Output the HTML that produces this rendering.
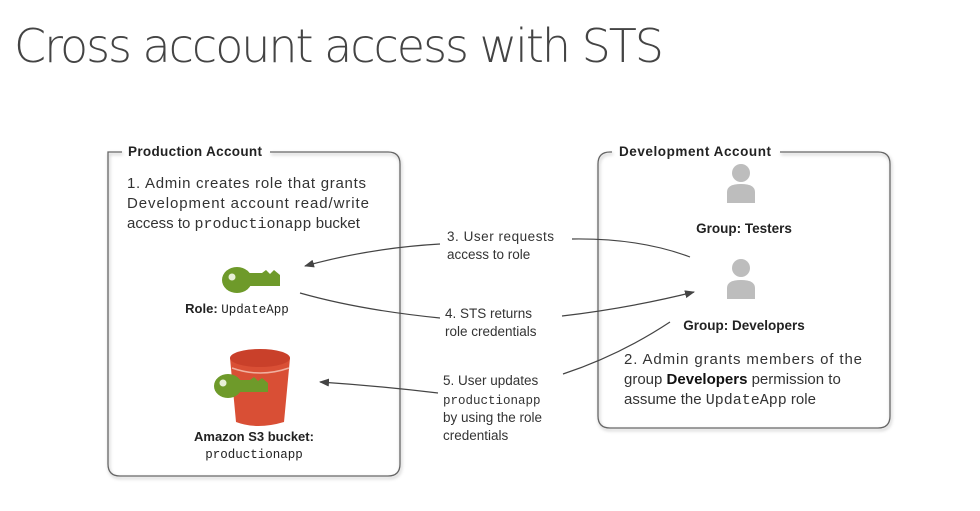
<!DOCTYPE html>
<html><head><style>
body{margin:0;background:#fff;}
svg text{font-family:"Liberation Sans",sans-serif;}
</style></head><body>
<svg width="980" height="506" viewBox="0 0 980 506" xmlns="http://www.w3.org/2000/svg">
<defs>
<marker id="ah" markerWidth="10" markerHeight="8" refX="9" refY="4" orient="auto" markerUnits="userSpaceOnUse">
<path d="M0,0 L10,4 L0,8 z" fill="#444"/></marker>
<filter id="sh"><feDropShadow dx="1" dy="2" stdDeviation="1.5" flood-opacity="0.3"/></filter>
</defs>
<text x="14" y="62" font-size="46" fill="#444" style="font-family:'DejaVu Sans',sans-serif;font-weight:200" textLength="650">Cross account access with STS</text>

<!-- Production box -->
<path d="M122,152 H108 Q108,152 108,164 V464 Q108,476 120,476 H388 Q400,476 400,464 V164 Q400,152 388,152 H270" fill="none" stroke="#666" stroke-width="1.3" filter="url(#sh)"/>
<text x="128" y="156" font-size="13.5" font-weight="bold" fill="#222" textLength="134">Production Account</text>
<text font-size="15" fill="#333"><tspan x="127" y="188" textLength="239">1. Admin creates role that grants</tspan><tspan x="127" y="208" textLength="242">Development account read/write</tspan><tspan x="127" y="228">access to <tspan style="font-family:'Liberation Mono',monospace">productionapp</tspan> bucket</tspan></text>
<!-- key -->
<g fill="#6e9a2a">
<ellipse cx="237" cy="280" rx="15" ry="13"/>
<path d="M245,273 H262 L266,270 L270,274 L274,270 L280,275 V286 H245 z"/>
<circle cx="232" cy="277" r="3.5" fill="#e8f0d8"/>
</g>
<text x="237" y="313" font-size="13" text-anchor="middle" fill="#222"><tspan font-weight="bold">Role: </tspan><tspan style="font-family:'Liberation Mono',monospace" font-size="12.5">UpdateApp</tspan></text>
<!-- bucket -->
<path d="M230,358 Q255,346 290,358 L284,422 Q257,430 236,422 z" fill="#d94f35"/>
<ellipse cx="260" cy="358" rx="30" ry="9" fill="#c9402a"/>
<path d="M232,368 Q260,378 289,368" stroke="#f0b0a0" stroke-width="1.5" fill="none"/>
<g fill="#6e9a2a">
<ellipse cx="228" cy="386" rx="14" ry="12"/>
<path d="M236,380 H250 L254,377 L258,381 L262,378 L268,383 V392 H236 z"/>
<circle cx="223" cy="383" r="3.5" fill="#e8f0d8"/>
</g>
<text x="254" y="441" font-size="13" font-weight="bold" text-anchor="middle" fill="#222">Amazon S3 bucket:</text>
<text x="254" y="458" font-size="12.5" text-anchor="middle" fill="#222" style="font-family:'Liberation Mono',monospace">productionapp</text>

<!-- Dev box -->
<path d="M612,152 H610 Q598,152 598,164 V416 Q598,428 610,428 H878 Q890,428 890,416 V164 Q890,152 878,152 H780" fill="none" stroke="#666" stroke-width="1.3" filter="url(#sh)"/>
<text x="619" y="156" font-size="13.5" font-weight="bold" fill="#222" textLength="152">Development Account</text>
<g fill="#bdbdbd">
<circle cx="741" cy="173" r="9"/>
<path d="M727,203 V192 Q727,184 741,184 Q755,184 755,192 V203 z"/>
<circle cx="741" cy="268" r="9"/>
<path d="M727,299 V288 Q727,280 741,280 Q755,280 755,288 V299 z"/>
</g>
<text x="744" y="233" font-size="13.5" font-weight="bold" text-anchor="middle" fill="#222">Group: Testers</text>
<text x="744" y="330" font-size="13.5" font-weight="bold" text-anchor="middle" fill="#222">Group: Developers</text>
<text font-size="15" fill="#333"><tspan x="624" y="364" textLength="238">2. Admin grants members of the</tspan><tspan x="624" y="384">group <tspan font-weight="bold" fill="#111">Developers</tspan> permission to</tspan><tspan x="624" y="404">assume the <tspan style="font-family:'Liberation Mono',monospace">UpdateApp</tspan> role</tspan></text>

<!-- connectors -->
<g fill="none" stroke="#444" stroke-width="1.2">
<path d="M690,257 Q640,238 572,239" />
<path d="M440,244 Q370,248 305,266" marker-end="url(#ah)"/>
<path d="M300,293 Q360,310 440,318"/>
<path d="M562,316 Q630,308 694,292" marker-end="url(#ah)"/>
<path d="M670,322 Q620,355 563,374"/>
<path d="M438,393 Q380,386 320,382" marker-end="url(#ah)"/>
</g>
<g font-size="13.5" fill="#333">
<text x="447" y="241" textLength="107">3. User requests</text><text x="447" y="259">access to role</text>
<text x="445" y="318">4. STS returns</text><text x="445" y="336">role credentials</text>
<text x="443" y="385">5. User updates</text>
<text x="443" y="404" style="font-family:'Liberation Mono',monospace" font-size="12.5">productionapp</text>
<text x="443" y="422">by using the role</text><text x="443" y="440">credentials</text>
</g>
</svg>
</body></html>
